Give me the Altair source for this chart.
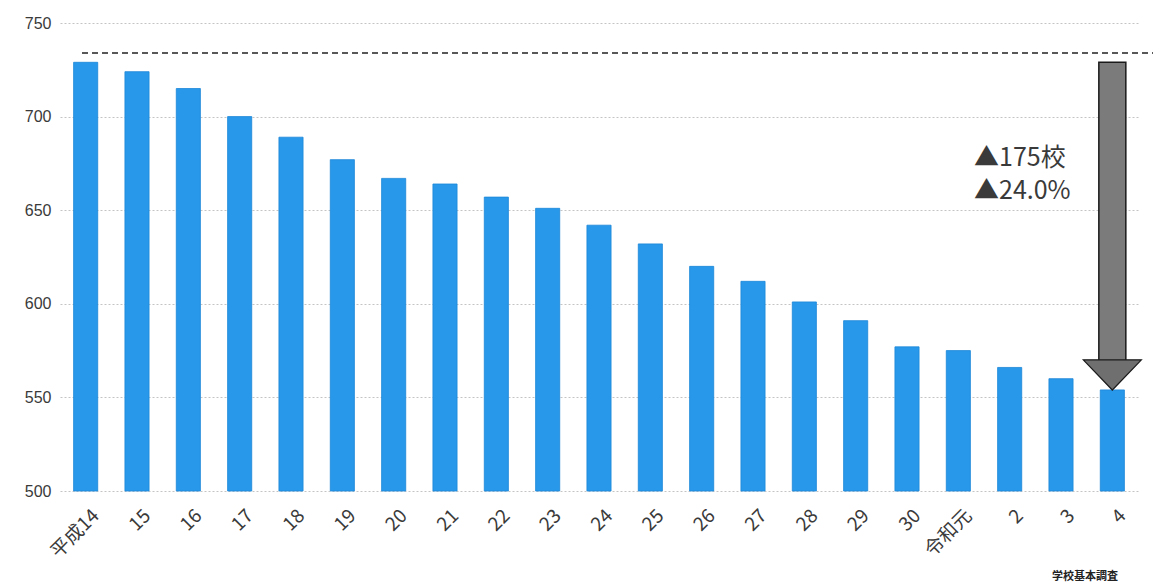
import altair as alt
import pandas as pd

years = ["平成14", "15", "16", "17", "18", "19", "20", "21", "22", "23", "24",
         "25", "26", "27", "28", "29", "30", "令和元", "2", "3", "4"]
schools = [729, 724, 715, 700, 689, 677, 667, 664, 657, 651, 642,
           632, 620, 612, 601, 591, 577, 575, 566, 560, 554]

axis_floor = 500
reference_level = [734]
arrow_top = [729]
arrow_head_start = [569]
arrow_head_center = [562]
annotation_lines = ["▲175校", "▲24.0%"]
annotation_y = [678, 660]
source_label = ["学校基本調査"]

W, H = 1078, 468
FONT = "Noto Sans CJK JP"

df = pd.DataFrame({"year": years, "value": schools})

xscale = alt.Scale(domain=years, paddingInner=0.53, paddingOuter=0.265)
yscale = alt.Scale(domain=[500, 750], nice=False, zero=False)

bars = alt.Chart(df).mark_bar(color="#2898EA", stroke="#1C86D8", strokeWidth=0.8).encode(
    x=alt.X("year:N", sort=years, scale=xscale,
            axis=alt.Axis(title=None, labelAngle=-45, labelFontSize=19, labelColor="#3a3a3a",
                          labelFont=FONT, ticks=False, domain=False, grid=False,
                          labelPadding=15, labelOffset=4)),
    y=alt.Y("value:Q", scale=yscale,
            axis=alt.Axis(title=None, values=[500, 550, 600, 650, 700, 750], labelFontSize=16,
                          labelColor="#3a3a3a", labelFont="Liberation Sans", ticks=False, domain=False,
                          labelPadding=9, gridColor="#c4c4c4", gridDash=[2, 2], gridWidth=1)),
    y2=alt.datum(axis_floor),
)

ref_df = pd.DataFrame({"y": reference_level})
ref_line = alt.Chart(ref_df).mark_rule(color="#222", strokeDash=[6, 4], strokeWidth=1.5).encode(
    y=alt.Y("y:Q", scale=yscale), x=alt.value(22), x2=alt.value(W + 16)
)

shaft_df = pd.DataFrame({"year": [years[-1]], "top": arrow_top, "bottom": arrow_head_start})
shaft = alt.Chart(shaft_df).mark_bar(width=27, color="#7b7b7b", stroke="#1a1a1a", strokeWidth=1.5).encode(
    x=alt.X("year:N", sort=years, scale=xscale),
    y=alt.Y("top:Q", scale=yscale),
    y2="bottom:Q",
)

head_df = pd.DataFrame({"year": [years[-1]], "y": arrow_head_center})
head = alt.Chart(head_df).mark_point(
    shape="M-1,-0.52L1,-0.52L0,0.52Z", size=58 * 58, filled=True, fill="#6f6f6f",
    stroke="#1a1a1a", strokeWidth=1.2, opacity=1
).encode(
    x=alt.X("year:N", sort=years, scale=xscale),
    y=alt.Y("y:Q", scale=yscale),
)

ann_df = pd.DataFrame({"t": annotation_lines, "y": annotation_y})
ann = alt.Chart(ann_df).mark_text(align="left", baseline="middle", fontSize=25, font=FONT,
                                  color="#3a3a3a").encode(
    text="t:N", y=alt.Y("y:Q", scale=yscale), x=alt.value(914)
)

src_df = pd.DataFrame({"t": source_label})
src = alt.Chart(src_df).mark_text(align="center", baseline="middle", fontSize=11, font=FONT,
                                  fontWeight="bold", color="#222").encode(
    text="t:N", x=alt.value(1025), y=alt.value(H + 86)
)

chart = alt.layer(bars, ref_line, shaft, head, ann, src).properties(
    width=W, height=H,
    background="white",
    autosize=alt.AutoSizeParams(type="none"),
    padding={"left": 60, "top": 23, "right": 15, "bottom": 97},
).configure_view(stroke=None, strokeWidth=0)

chart.save("out.html", embed_options={"renderer": "svg", "actions": False})
